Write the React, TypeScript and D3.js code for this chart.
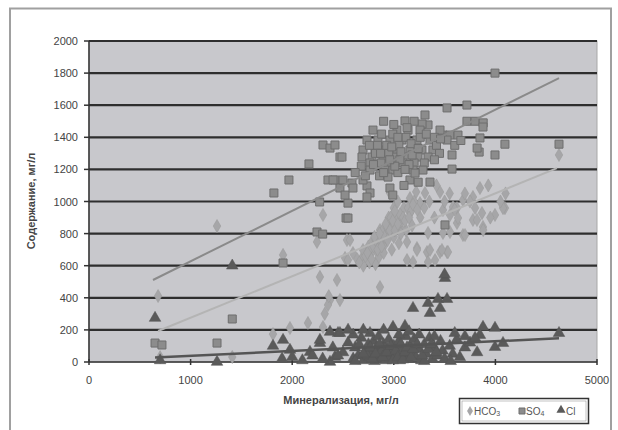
import React from 'react';
import * as d3 from 'd3';

// tick values
const xTicks = [0, 1000, 2000, 3000, 4000, 5000];
const yTicks = [0, 200, 400, 600, 800, 1000, 1200, 1400, 1600, 1800, 2000];

// SO4 points [минерализация, содержание]
const so4Points: [number, number][] = [
  [650,118],[718,106],[1260,118],[1410,268],[1910,617],[1820,1053],[1968,1134],[2165,1234],[2270,997],[2244,810],[2300,797],[2530,897],[2549,990],
  [2303,1352],[2372,1333],[2421,1352],[2470,1277],[2352,1134],[2421,1134],[2470,1084],[2520,1040],[2588,1115],[2736,1097],[2766,1053],[2736,1028],[2598,1084],
  [3996,1800],[3524,1583],[3720,1601],[3720,1500],[3800,1500],[3880,1490],[3878,1464],[4626,1357],[4094,1357],[3996,1290],[3840,1308],[3820,1333],[3573,1290],[3573,1202],[3484,1414],[3553,1414],[3632,1414],[3524,1383],[3848,1396],
  [3307,1539],[3337,1477],[3278,1483],[3110,1502],[3140,1445],[2795,1445],[3031,1445],[3258,1445],[3455,1445],
  [2736,1383],[2844,1383],[2962,1383],[3080,1383],[3228,1383],[3356,1383],
  [2697,1321],[2815,1321],[2913,1321],[3031,1321],[3159,1321],[3277,1321],[3385,1321],
  [2490,1277],[2687,1277],[2785,1277],[2893,1277],[3012,1277],[3130,1277],[3238,1277],[3337,1277],
  [2765,1240],[2874,1240],[2972,1240],[3090,1240],[3200,1240],[3300,1240],
  [2766,1196],[2913,1196],[2992,1196],[3189,1196],[3287,1196],
  [2402,1134],[2500,1134],[2697,1134],[2943,1152],[3159,1134],[3356,1121],[3209,1177],
  [2962,1084],[2549,897],[3504,854],
  [2840,1350],[2950,1300],[3050,1350],[3120,1400],[3180,1290],[2880,1420],[2990,1420],[3060,1260],[3150,1230],[2860,1160],
  [3040,1180],[3100,1100],[2820,1300],[3000,1480],[3200,1500],[3420,1350],[3450,1300],[3600,1350],[3660,1380],[2900,1500],
  [2680,1220],[2620,1180],[3240,1120],[2990,1040],
  [2760,1350],[2870,1300],[2930,1350],[3010,1220],[3070,1310],[3110,1200],[3170,1360],[3260,1400],[3320,1420],[3400,1400],
  [3460,1390],[3400,1260],[2800,1230],[2720,1160],[2960,1260],[3040,1400],[3130,1460],[2900,1180],[3240,1330],[2980,1340],
];

// HCO3 points
const hco3Points: [number, number][] = [
  [680,411],[700,30],[1260,847],[1410,31],[1910,667],[1978,212],[1811,174],[2155,243],[2303,218],[2244,748],[2303,916],[2273,530],[2441,511],
  [2372,386],[2352,355],[2470,386],[2520,648],[2539,760],[2598,679],[2864,467],[2569,760],[2549,635],
  [2687,648],[2825,698],[2923,760],[3061,841],[3159,928],[3258,990],[2864,822],[2795,760],[2697,698],[2962,866],[3130,748],[3228,710],
  [3327,685],[3406,635],[3455,685],[3524,685],[3130,635],[3189,623],[3337,623],[3031,835],[3681,791],[3337,804],[3553,810],[3622,866],
  [3622,959],[3779,885],[3868,928],[3878,841],[3996,916],[4094,959],[3880,822],
  [2962,1053],[3159,1021],[3307,1053],[3455,1059],[3681,1009],[3848,1084],[4626,1290],
  [3779,1028],[3583,966],[3484,947],[3553,916],[3632,897],[3819,885],[4075,959],[3701,791],[3484,804],[3533,685],[3474,698],[3356,698],[3228,698],
  [2750,720],[2780,680],[2850,740],[2880,790],[2900,720],[2940,800],[2980,840],[3000,780],[3020,900],[3080,880],[3100,960],[3120,820],
  [3000,960],[2950,900],[3200,1000],[2850,650],[2760,620],[2820,610],[2900,680],[3050,740],[3180,850],[3260,900],[3300,960],[2700,600],
  [2640,640],[2980,700],[3040,1000],[3220,1060],[3350,1000],[3400,900],[3420,1100],[3500,1000],[3550,1050],[3600,950],[3700,1050],
  [3750,1000],[3800,960],[3950,900],[4050,1000],[4100,1050],[3930,1100],[2360,410],[2320,300],
  [2720,660],[2760,700],[2800,720],[2820,760],[2840,700],[2870,760],[2890,820],[2910,780],[2930,840],[2960,820],[2970,900],
  [2990,880],[3010,820],[3040,860],[3060,920],[3090,900],[3110,880],[3140,960],[3170,940],[3190,980],[3230,950],[2780,640],
  [2740,680],[2810,780],[2860,800],[2920,860],[2940,760],[3070,800],[3150,900],[2660,620],[2880,720],[3010,940],
];

// Cl points
const clPoints: [number, number][] = [
  [650,274],[700,10],[1410,600],[1260,0],[1811,100],[1910,137],[1978,75],[2175,62],[2273,118],[2372,187],[2451,180],[2372,0],[2421,31],
  [2273,137],[2470,180],[2766,180],[2992,218],[3110,224],[3504,523],[3500,545],[3189,336],[3337,367],[3356,305],[3455,336],[3435,392],
  [3524,392],[3878,218],[3996,212],[4626,180],[3848,168],[3996,93],[4075,118],
  [2500,60],[2550,120],[2600,20],[2620,90],[2650,40],[2680,150],[2700,10],[2720,70],[2750,110],[2760,30],[2780,60],[2800,130],[2810,5],
  [2830,90],[2840,40],[2850,160],[2870,20],[2880,70],[2900,110],[2910,40],[2920,10],[2940,80],[2950,140],[2960,30],[2980,60],[3000,100],
  [3010,20],[3030,50],[3050,130],[3060,10],[3080,80],[3100,40],[3120,160],[3140,20],[3160,100],[3180,60],[3200,140],[3220,30],[3250,80],
  [3270,10],[3300,110],[3320,50],[3350,150],[3380,20],[3400,90],[3430,40],[3460,130],[3480,70],[3500,20],[3550,100],[3580,50],[3620,140],
  [3650,30],[3700,90],[3750,120],[3800,150],[3820,60],[3600,180],[3700,160],[2450,40],[2400,90],[2300,20],[2200,40],[2100,10],[2000,30],
  [1900,20],[2600,170],[2700,200],[3150,190],[3250,170],[3400,160],[2900,200],[2550,200],[3050,170],[2620,5],[3300,5],[3560,5],
  [2740,40],[2770,90],[2790,20],[2820,50],[2860,110],[2890,30],[2930,60],[2970,100],[2990,10],[3020,70],[3040,30],[3070,110],
  [3090,15],[3110,60],[3130,90],[3170,30],[3190,80],[3230,110],[3280,40],[3340,80],[3370,110],[3420,60],[2660,110],[2700,50],
];

// trend lines (endpoints)
const so4Trend: [number, number][] = [[630, 511], [4626, 1769]];
const hco3Trend: [number, number][] = [[680, 193], [4606, 1208]];
const clTrend: [number, number][] = [[650, 28], [4626, 148]];

const font = '"Liberation Sans", Arial, sans-serif';

export default function App() {
  const left = 89, right = 597, top = 41, bottom = 362;
  const x = d3.scaleLinear().domain([0, 5000]).range([left, right]);
  const y = d3.scaleLinear().domain([0, 2000]).range([bottom, top]);
  const line = d3.line<[number, number]>().x(d => x(d[0])).y(d => y(d[1]));

  const sq = d3.symbol().type(d3.symbolSquare).size(64)()!;
  const dia = d3.symbol().type(d3.symbolDiamond).size(50)()!;
  const tri = d3.symbol().type(d3.symbolTriangle).size(58)()!;

  return (
    <svg width={618} height={430} style={{ position: 'absolute', left: 0, top: 0, background: '#fff' }}>
      <rect x={10} y={8.5} width={601} height={430} fill="#fff" stroke="#a0a0a0" strokeWidth={2} />
      <rect x={left} y={top} width={right - left} height={bottom - top} fill="#c8c8cc" stroke="#a8a8a8" />

      {yTicks.filter(t => t > 0).map(t => (
        <line key={t} x1={left} x2={right} y1={y(t)} y2={y(t)} stroke="#2e2e2e" strokeWidth={2.2} />
      ))}

      {/* axes */}
      <line x1={left} x2={left} y1={top} y2={bottom} stroke="#333" strokeWidth={1.5} />
      <line x1={left} x2={right} y1={bottom} y2={bottom} stroke="#333" strokeWidth={1.5} />
      {yTicks.map(t => (
        <g key={t}>
          <line x1={left - 5} x2={left} y1={y(t)} y2={y(t)} stroke="#333" strokeWidth={1.5} />
          <text x={left - 11} y={y(t) + 4} textAnchor="end" fontSize={11} fill="#444" fontFamily={font}>{t}</text>
        </g>
      ))}
      {xTicks.map(t => (
        <g key={t}>
          <line x1={x(t)} x2={x(t)} y1={bottom - 3} y2={bottom + 3} stroke="#333" strokeWidth={1.5} />
          <text x={x(t)} y={bottom + 22} textAnchor="middle" fontSize={11} fill="#444" fontFamily={font}>{t}</text>
        </g>
      ))}

      {/* points */}
      {hco3Points.map((d, i) => (
        <path key={'h' + i} d={dia} transform={`translate(${x(d[0])},${y(d[1])})`} fill="#a6a6a8" stroke="#999" strokeWidth={0.5} />
      ))}
      {so4Points.map((d, i) => (
        <path key={'s' + i} d={sq} transform={`translate(${x(d[0])},${y(d[1])})`} fill="#8c8c8c" stroke="#6e6e6e" strokeWidth={1} />
      ))}
      {clPoints.map((d, i) => (
        <path key={'c' + i} d={tri} transform={`translate(${x(d[0])},${y(d[1])})`} fill="#5a5a5a" stroke="#555" strokeWidth={0.5} />
      ))}

      {/* trends */}
      <path d={line(so4Trend)!} stroke="#8a8a8a" strokeWidth={2} fill="none" />
      <path d={line(hco3Trend)!} stroke="#b4b4b4" strokeWidth={2} fill="none" />
      <path d={line(clTrend)!} stroke="#555" strokeWidth={2.5} fill="none" />

      {/* axis titles */}
      <text transform="translate(35,201) rotate(-90)" textAnchor="middle" fontSize={11} fontWeight="bold" fill="#444" fontFamily={font}>Содержание, мг/л</text>
      <text x={341} y={404} textAnchor="middle" fontSize={11} fontWeight="bold" fill="#444" fontFamily={font}>Минерализация, мг/л</text>

      {/* legend */}
      <rect x={459.5} y={398.5} width={129} height={25} fill="#fff" stroke="#333" strokeWidth={1.5} />
      <rect x={462} y={401} width={124} height={20} fill="none" stroke="#888" strokeWidth={0.5} />
      <path d={d3.symbol().type(d3.symbolDiamond).size(30)()!} transform="translate(470,411)" fill="#a6a6a8" />
      <text x={474} y={415} fontSize={10} fill="#555" fontFamily={font}>HCO<tspan fontSize={7} dy={1}>3</tspan></text>
      <path d={d3.symbol().type(d3.symbolSquare).size(36)()!} transform="translate(522,411)" fill="#8c8c8c" stroke="#6e6e6e" />
      <text x={526} y={415} fontSize={10} fill="#555" fontFamily={font}>SO<tspan fontSize={7} dy={1}>4</tspan></text>
      <path d={d3.symbol().type(d3.symbolTriangle).size(36)()!} transform="translate(561,410)" fill="#5a5a5a" />
      <text x={566} y={415} fontSize={10} fill="#555" fontFamily={font}>Cl</text>
    </svg>
  );
}
